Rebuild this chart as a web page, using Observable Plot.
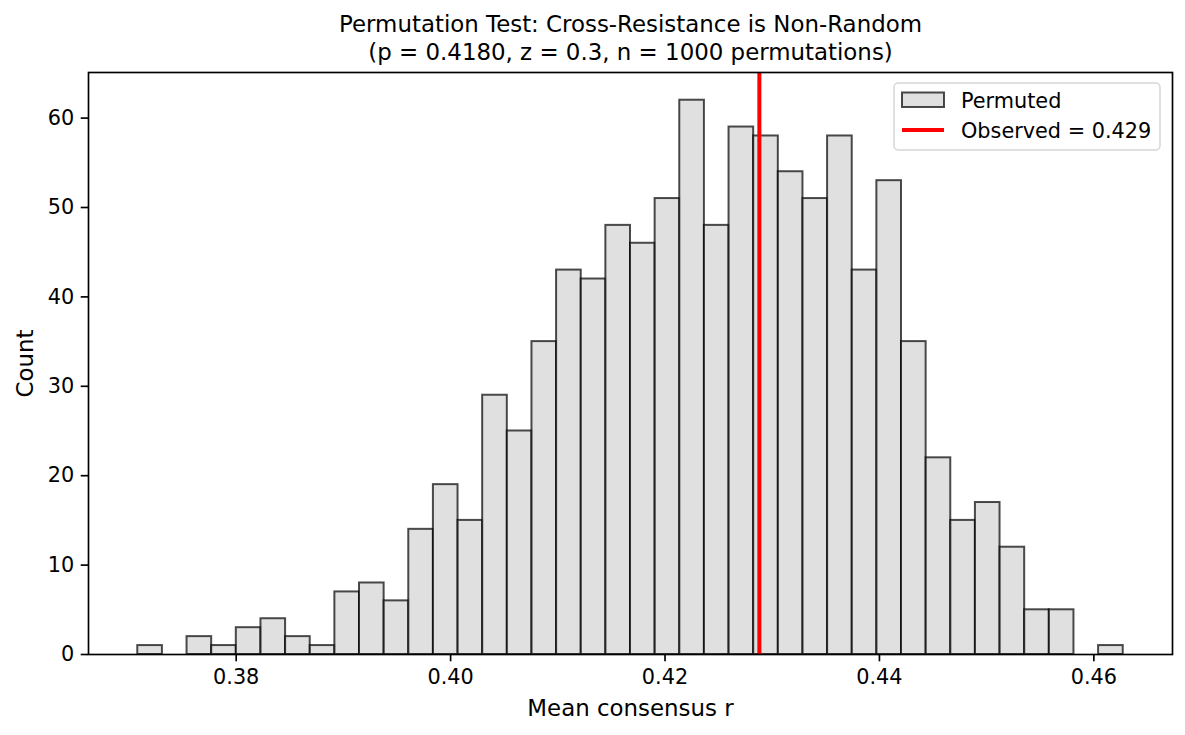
<!DOCTYPE html>
<html>
<head>
<meta charset="utf-8">
<script src="https://cdn.jsdelivr.net/npm/d3@7"></script>
<script src="https://cdn.jsdelivr.net/npm/@observablehq/plot@0.6"></script>
<style>
  html, body { margin: 0; padding: 0; background: white; }
  #chart { position: relative; width: 1185px; height: 735px; }
</style>
</head>
<body>
<div id="chart"></div>
<script>
// ---- Data ----
const binLow = 0.37082;   // left edge of first bin
const binHigh = 0.46274;  // right edge of last bin
const counts = [1, 0, 2, 1, 3, 4, 2, 1, 7, 8,
                6, 14, 19, 15, 29, 25, 35, 43, 42, 48,
                46, 51, 62, 48, 59, 58, 54, 51, 58, 43,
                53, 35, 22, 15, 17, 12, 5, 5, 0, 1];
const observed = 0.4288;
const xTicks = [0.38, 0.40, 0.42, 0.44, 0.46];
const yTicks = [0, 10, 20, 30, 40, 50, 60];
const titleLines = ["Permutation Test: Cross-Resistance is Non-Random",
                    "(p = 0.4180, z = 0.3, n = 1000 permutations)"];
const xLabel = "Mean consensus r";
const yLabel = "Count";
const legendLabels = ["Permuted", "Observed = 0.429"];

// ---- Build bin table ----
const nBins = counts.length;
const binW = (binHigh - binLow) / nBins;
const bins = counts.map((c, i) => ({x0: binLow + i * binW, x1: binLow + (i + 1) * binW, count: c}))
                   .filter(d => d.count > 0);
const R = binHigh - binLow;
const xDomain = [binLow - 0.05 * R, binHigh + 0.05 * R];
const yDomain = [0, d3.max(counts) * 1.05];

const FONT = "DejaVu Sans";
const lw = 1.67;

const svg = Plot.plot({
  width: 1185,
  height: 735,
  marginTop: 72,
  marginBottom: 81,
  marginLeft: 88,
  marginRight: 13,
  style: {fontFamily: FONT, fontSize: "20.8px", background: "white", color: "black"},
  x: {domain: xDomain, label: null},
  y: {domain: yDomain, label: null},
  marks: [
    Plot.rectY(bins, {
      x1: "x0", x2: "x1", y: "count",
      fill: "lightgray", fillOpacity: 0.7,
      stroke: "black", strokeOpacity: 0.7, strokeWidth: 2,
      insetLeft: 0, insetRight: 0
    }),
    Plot.ruleX([observed], {stroke: "red", strokeWidth: 4}),
    Plot.frame({stroke: "black", strokeWidth: lw}),
    Plot.axisX({ticks: xTicks, tickFormat: d3.format(".2f"), tickSize: 7.3, tickPadding: 7.3,
                strokeWidth: lw, label: null, fontSize: 20.8}),
    Plot.axisY({ticks: yTicks, tickSize: 7.3, tickPadding: 7, strokeWidth: lw,
                label: null, fontSize: 20.8}),
    Plot.text([titleLines[0]], {frameAnchor: "top", dy: -47.6, text: d => d, fontSize: 22.9, lineAnchor: "middle", textAnchor: "middle"}),
    Plot.text([titleLines[1]], {frameAnchor: "top", dy: -19.8, text: d => d, fontSize: 22.9, lineAnchor: "middle", textAnchor: "middle"}),
    Plot.text([xLabel], {frameAnchor: "bottom", dy: 54, text: d => d, fontSize: 22.9, lineAnchor: "middle", textAnchor: "middle"}),
    Plot.text([yLabel], {frameAnchor: "left", dx: -63, rotate: -90, text: d => d, fontSize: 22.9, lineAnchor: "middle", textAnchor: "middle"})
  ]
});

// ---- Legend (inside the frame, upper right) ----
const g = d3.select(svg).append("g").attr("font-family", FONT).attr("font-size", "20.8px")
  .attr("text-anchor", "start");
g.append("rect").attr("x", 894).attr("y", 83).attr("width", 266).attr("height", 67)
  .attr("rx", 4.2).attr("fill", "white").attr("fill-opacity", 0.8)
  .attr("stroke", "#cccccc").attr("stroke-opacity", 0.8).attr("stroke-width", 1.5);
g.append("rect").attr("x", 902).attr("y", 92.5).attr("width", 42).attr("height", 14.5)
  .attr("fill", "lightgray").attr("fill-opacity", 0.7)
  .attr("stroke", "black").attr("stroke-opacity", 0.7).attr("stroke-width", 2);
g.append("line").attr("x1", 902).attr("x2", 944).attr("y1", 130).attr("y2", 130)
  .attr("stroke", "red").attr("stroke-width", 4);
g.append("text").attr("x", 961).attr("y", 107.5).attr("fill", "black").attr("text-anchor", "start").text(legendLabels[0]);
g.append("text").attr("x", 961).attr("y", 137.5).attr("fill", "black").attr("text-anchor", "start").text(legendLabels[1]);

document.getElementById("chart").appendChild(svg);
</script>
</body>
</html>
